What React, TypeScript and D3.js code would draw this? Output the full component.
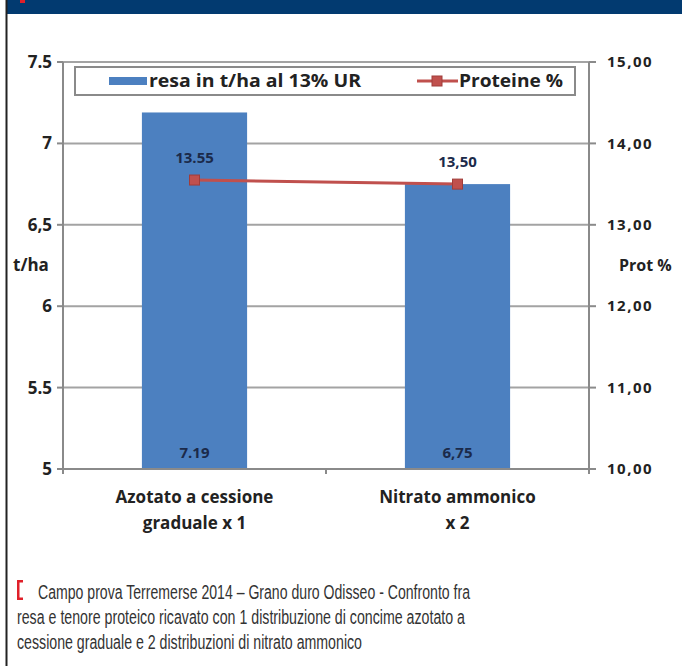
import React from "react";
import * as d3 from "d3";

const categories = ["Azotato a cessione|graduale x 1", "Nitrato ammonico|x 2"];
const resa = [7.19, 6.75];
const resaLabels = ["7.19", "6,75"];
const proteine = [13.55, 13.5];
const proteineLabels = ["13.55", "13,50"];
const leftTicks = [5, 5.5, 6, 6.5, 7, 7.5];
const leftTickLabels = ["5", "5.5", "6", "6,5", "7", "7.5"];
const rightTicks = [10, 11, 12, 13, 14, 15];
const rightTickLabels = ["10,00", "11,00", "12,00", "13,00", "14,00", "15,00"];
const caption = [
  "Campo prova Terremerse 2014 – Grano duro Odisseo - Confronto fra",
  "resa e tenore proteico ricavato con 1 distribuzione di concime azotato a",
  "cessione graduale e 2 distribuzioni di nitrato ammonico",
];
const captionWidths = [432, 448, 345];

const W = 682;
const H = 666;
const L = 63, R = 589, T = 62, B = 469;
const BAR = "#4c80c0";
const LINE = "#c0504d";
const LABEL = "#1b2a4a";
const AXIS = "#8a8a8a";
const FONT = "'Open Sans', 'DejaVu Sans', sans-serif";

export default function App() {
  const x = d3.scaleBand<string>().domain(categories).range([L, R]).padding(0);
  const yL = d3.scaleLinear().domain([5, 7.5]).range([B, T]);
  const yR = d3.scaleLinear().domain([10, 15]).range([B, T]);
  const bw = x.bandwidth() * 0.4;
  const cx = (c: string) => (x(c) as number) + x.bandwidth() / 2;

  const line = d3
    .line<number>()
    .x((_, i) => cx(categories[i]))
    .y((d) => yR(d));

  return (
    <div style={{ position: "absolute", left: 0, top: 0, width: W, height: H, background: "#fff" }}>
      <svg width={W} height={H} style={{ display: "block" }}>
        <rect x={0} y={0} width={W} height={H} fill="#fff" />
        {/* header band */}
        <rect x={7} y={0} width={W - 7} height={14} fill="#023a70" />
        <rect x={20} y={0} width={5} height={3} fill="#e0202a" />
        {/* left border */}
        <line x1={6.5} y1={0} x2={6.5} y2={H} stroke="#222" strokeWidth={2} />

        {/* gridlines */}
        {leftTicks.map((t) => (
          <line key={"g" + t} x1={L} x2={R} y1={yL(t)} y2={yL(t)} stroke="#a3a3a3" strokeWidth={2} />
        ))}

        {/* bars */}
        {categories.map((c, i) => (
          <rect
            key={c}
            x={cx(c) - bw / 2}
            y={yL(resa[i])}
            width={bw}
            height={B - yL(resa[i])}
            fill={BAR}
          />
        ))}

        {/* axes */}
        <line x1={L} x2={L} y1={T} y2={B} stroke={AXIS} strokeWidth={2} />
        <line x1={R} x2={R} y1={T} y2={B} stroke={AXIS} strokeWidth={2} />
        <line x1={L} x2={R} y1={B} y2={B} stroke={AXIS} strokeWidth={2} />
        {leftTicks.map((t) => (
          <line key={"lt" + t} x1={L - 6} x2={L} y1={yL(t)} y2={yL(t)} stroke={AXIS} strokeWidth={2} />
        ))}
        {rightTicks.map((t) => (
          <line key={"rt" + t} x1={R} x2={R + 7} y1={yR(t)} y2={yR(t)} stroke={AXIS} strokeWidth={2} />
        ))}
        {[L, L + x.step(), R].map((v, i) => (
          <line key={"xt" + i} x1={v} x2={v} y1={B} y2={B + 5} stroke={AXIS} strokeWidth={2} />
        ))}

        {/* tick labels */}
        {leftTicks.map((t, i) => (
          <text key={"ll" + t} x={52} y={yL(t)} dy="0.35em" textAnchor="end" fontFamily={FONT} fontWeight="bold" fontSize={17} fill="#222">
            {leftTickLabels[i]}
          </text>
        ))}
        {rightTicks.map((t, i) => (
          <text key={"rl" + t} x={607} y={yR(t)} dy="0.35em" textAnchor="start" fontFamily={FONT} fontWeight="bold" fontSize={15} letterSpacing={1.5} fill="#222">
            {rightTickLabels[i]}
          </text>
        ))}
        <text x={13} y={265} dy="0.35em" fontFamily={FONT} fontWeight="bold" fontSize={17} fill="#222">t/ha</text>
        <text x={619} y={265} dy="0.35em" fontFamily={FONT} fontWeight="bold" fontSize={16} fill="#222">Prot %</text>

        {/* category labels */}
        {categories.map((c) =>
          c.split("|").map((ln, j) => (
            <text key={c + j} x={cx(c)} y={497 + j * 26} dy="0.35em" textAnchor="middle" fontFamily={FONT} fontWeight="bold" fontSize={17} fill="#222">
              {ln}
            </text>
          ))
        )}

        {/* bar value labels */}
        {categories.map((c, i) => (
          <text key={"bv" + c} x={cx(c)} y={453} dy="0.35em" textAnchor="middle" fontFamily={FONT} fontWeight="bold" fontSize={15} fill={LABEL}>
            {resaLabels[i]}
          </text>
        ))}

        {/* protein line */}
        <path d={line(proteine) || ""} fill="none" stroke={LINE} strokeWidth={3} />
        {proteine.map((p, i) => (
          <rect key={"m" + i} x={cx(categories[i]) - 5} y={yR(p) - 5} width={10} height={10} fill={LINE} stroke="#a03c3a" strokeWidth={1} />
        ))}
        {proteine.map((p, i) => (
          <text key={"pl" + i} x={cx(categories[i])} y={yR(p) - 22} dy="0.35em" textAnchor="middle" fontFamily={FONT} fontWeight="bold" fontSize={15} fill={LABEL}>
            {proteineLabels[i]}
          </text>
        ))}

        {/* legend */}
        <rect x={75} y={67} width={500} height={28} fill="#fff" stroke="#8a8a8a" strokeWidth={2} />
        <rect x={109} y={77} width={38} height={8} fill={BAR} />
        <text x={149} y={81} dy="0.35em" fontFamily={FONT} fontWeight="bold" fontSize={17} textLength={212} lengthAdjust="spacingAndGlyphs" fill="#222">resa in t/ha al 13% UR</text>
        <line x1={417} x2={458} y1={81} y2={81} stroke={LINE} strokeWidth={3} />
        <rect x={432} y={76} width={10} height={10} fill={LINE} stroke="#a03c3a" strokeWidth={1} />
        <text x={459} y={81} dy="0.35em" fontFamily={FONT} fontWeight="bold" fontSize={17} textLength={104} lengthAdjust="spacingAndGlyphs" fill="#222">Proteine %</text>

        {/* caption */}
        <rect x={17} y={580} width={2.5} height={20} fill="#e0202a" />
        <rect x={17} y={580} width={6} height={2.5} fill="#e0202a" />
        <rect x={17} y={597.5} width={6} height={2.5} fill="#e0202a" />
        {caption.map((ln, i) => (
          <text key={"c" + i} x={i === 0 ? 38 : 17} y={592 + i * 25} dy="0.35em" fontFamily="'Liberation Sans', 'DejaVu Sans Condensed', sans-serif" fontSize={20} textLength={captionWidths[i]} lengthAdjust="spacingAndGlyphs" fill="#333">
            {ln}
          </text>
        ))}
      </svg>
    </div>
  );
}
